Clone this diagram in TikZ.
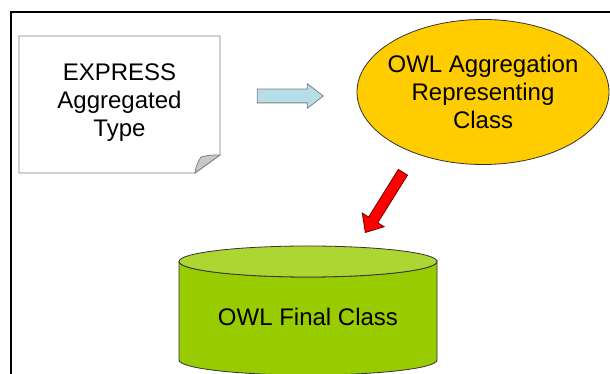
\documentclass[tikz,border=0pt]{standalone}
\usepackage{fontspec}
\setmainfont{Liberation Sans}
\usetikzlibrary{shapes.geometric,shapes.arrows,calc}

\definecolor{owlyellow}{HTML}{FFCC00}
\definecolor{owlgreen}{HTML}{99CC00}
\definecolor{owlgreentop}{HTML}{ADD633}
\definecolor{arrowblue}{HTML}{B7DEE8}
\definecolor{foldgray}{HTML}{C8C8C8}

\begin{document}
\begin{tikzpicture}[x=1pt,y=1pt,line width=0.8pt,
    font=\fontsize{24}{28}\selectfont,
    page/.style={draw=gray,fill=white},
    blockarrow/.style={single arrow,inner sep=0pt,anchor=tip}]
  \useasboundingbox (0,0) rectangle (610,374);
  % --- frame: only top and left edges show ---
  \draw[line width=1.5pt] (11,0) -- (11,362) -- (610,362);
  % --- EXPRESS type on a curled note page ---
  \coordinate (nw) at (19,338);
  \coordinate (se) at (220,201);
  \draw[page] (nw) -- (nw -| se) -- ([yshift=18]se) -- ([xshift=-25]se) -- (nw |- se) -- cycle;
  \draw[draw=gray,fill=foldgray] ([xshift=-25]se) to[bend left=12] (201,217)
    to[bend left=8] ([yshift=18]se) -- cycle;
  \node[align=center] (expr) at ($(nw)!0.5!(se)+(0,2)$) {EXPRESS\\Aggregated\\Type};
  % --- OWL aggregation class ---
  \node[ellipse,draw=black!80,fill=owlyellow,minimum width=252,minimum height=145,
    inner sep=-14pt,align=center] (agg) at (483,282) {OWL Aggregation\\Representing\\Class};
  % --- OWL final class as a cylinder ---
  \coordinate (ctop) at (308,112.5);
  \coordinate (cbot) at (308,14);
  \draw[draw=black!80,fill=owlgreen] ($(ctop)+(-129,0)$) -- ($(cbot)+(-129,0)$)
    arc[start angle=180,end angle=360,x radius=129,y radius=15]
    -- ($(ctop)+(129,0)$) arc[start angle=0,end angle=-180,x radius=129,y radius=15.5];
  \draw[draw=black!80,fill=owlgreentop] (ctop) ellipse[x radius=129,y radius=15.5];
  \node (final) at (308,57) {OWL Final Class};
  % --- block arrows ---
  \node[blockarrow,draw=gray,fill=arrowblue,minimum height=66,inner ysep=6.5pt,
    single arrow head extend=5.5pt,single arrow tip angle=75] (toagg) at (324,278) {};
  \node[blockarrow,draw=red!45!black,fill=red,minimum height=71,inner ysep=5pt,
    single arrow head extend=7.5pt,single arrow tip angle=82,rotate=238] (tofinal) at (365,141) {};
\end{tikzpicture}
\end{document}
